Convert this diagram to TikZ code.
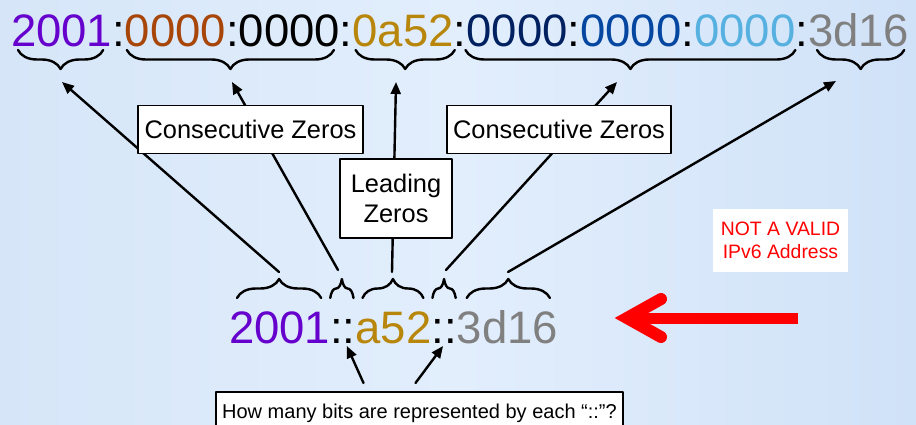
\documentclass[tikz,border=0pt]{standalone}
\usepackage{fontspec}
\setmainfont{Liberation Sans}
\usetikzlibrary{positioning,decorations.pathreplacing,arrows.meta}
\definecolor{ipPurple}{RGB}{102,0,204}
\definecolor{ipBrown}{RGB}{168,70,10}
\definecolor{ipGold}{RGB}{184,134,11}
\definecolor{ipNavy}{RGB}{0,32,96}
\definecolor{ipBlue}{RGB}{5,70,160}
\definecolor{ipSky}{RGB}{86,176,224}
\definecolor{ipGray}{RGB}{128,128,128}
\definecolor{bgLeft}{RGB}{214,230,248}
\definecolor{bgMid}{RGB}{226,238,252}
\definecolor{bgRight}{RGB}{208,226,248}
\tikzset{
  hexa/.style={inner sep=0pt,outer sep=0pt,font=\fontsize{45.5}{50}\selectfont},
  bracket/.style={decorate,decoration={brace,amplitude=19pt},line width=2.4pt},
  pointer/.style={line width=2.4pt,-{Triangle[length=12pt,width=10pt]}},
  labelbox/.style={draw,line width=1.8pt,fill=white,font=\fontsize{25.4}{30}\selectfont,align=center,inner sep=0pt},
}
\begin{document}
\begin{tikzpicture}[x=1pt,y=-1pt,line cap=round,line join=round]
\shade[left color=bgLeft,right color=bgRight,middle color=bgMid] (0,0) rectangle (916,425);
\useasboundingbox (0,0) rectangle (916,425);
\node[hexa,anchor=base west,text=ipPurple] (a1) at (11,47) {2001};
\foreach \n/\t/\c [remember=\n as \p (initially a1)] in {k1/:/black,a2/0000/ipBrown,k2/:/black,a3/0000/black,k3/:/black,a4/0a52/ipGold,k4/:/black,a5/0000/ipNavy,k5/:/black,a6/0000/ipBlue,k6/:/black,a7/0000/ipSky,k7/:/black,a8/3d16/ipGray}
  \node[hexa,base right=0pt of \p,text=\c] (\n) {\t};
\node[hexa,anchor=base west,text=ipPurple] (b1) at (229,343) {2001};
\foreach \n/\t/\c [remember=\n as \p (initially b1)] in {c1/::/black,b2/a52/ipGold,c2/::/black,b3/3d16/ipGray}
  \node[hexa,base right=0pt of \p,text=\c] (\n) {\t};
\foreach \f/\t/\l/\r in {a1/a1/7/-9,a2/a3/2/-6,a4/a4/3/1,a5/a7/-1/0,a8/a8/9/-5}
  \draw[bracket,decoration={mirror}] ([shift={(\l pt,-3pt)}]\f.base west) -- ([shift={(\r pt,-3pt)}]\t.base east);
\foreach \f/\l/\r in {b1/8/-9,c1/0/-2,b2/7/-8,c2/1/-1,b3/10/-8}
  \draw[bracket] ([shift={(\l pt,45pt)}]\f.base west) -- ([shift={(\r pt,45pt)}]\f.base east);
\path
(279,272) coordinate (s1)
(338,270) coordinate (s2)
(392,272) coordinate (s3)
(446,270) coordinate (s4)
(508,272) coordinate (s5)
(62,82) coordinate (e1)
(232,82) coordinate (e2)
(396,82) coordinate (e3)
(617,82) coordinate (e4)
(836,81) coordinate (e5)
;
\foreach \i in {1,...,5}
  \draw[pointer] (s\i) -- (e\i);
\node[labelbox,minimum width=225pt,minimum height=48pt] (cz1) at (250.5,129.5) {Consecutive Zeros};
\node[labelbox,minimum width=224pt,minimum height=48pt] (cz2) at (559,129.5) {Consecutive Zeros};
\node[labelbox,minimum width=112pt,minimum height=79pt] (lz) at (396,198.5) {Leading\\Zeros};
\node[fill=white,text=red,font=\fontsize{19.4}{23}\selectfont,align=center,inner sep=0pt,minimum width=135pt,minimum height=63pt] (nv) at (780.5,240.5) {NOT A VALID\\IPv6 Address};
\node[draw,line width=1.8pt,fill=white,anchor=north,font=\fontsize{20}{24}\selectfont,inner xsep=6pt,inner ysep=12pt,minimum width=407pt] (q) at (419.5,391) {How many bits are represented by each “::”?};
\draw[pointer] ([shift={(-56pt,8pt)}]q.north) -- ([shift={(4pt,-3pt)}]c1.base);
\draw[pointer] ([shift={(-4pt,8pt)}]q.north) -- ([shift={(-1pt,-3pt)}]c2.base);
\path
(798,318) coordinate (r0)
(627,318) coordinate (r1)
(661,299) coordinate (r2)
(661,337) coordinate (r3)
;
\draw[red,line width=11pt,line cap=butt] (r0) -- (r1);
\draw[red,line width=12pt,line cap=round,line join=miter] (r2) -- (r1) -- (r3);
\end{tikzpicture}
\end{document}
